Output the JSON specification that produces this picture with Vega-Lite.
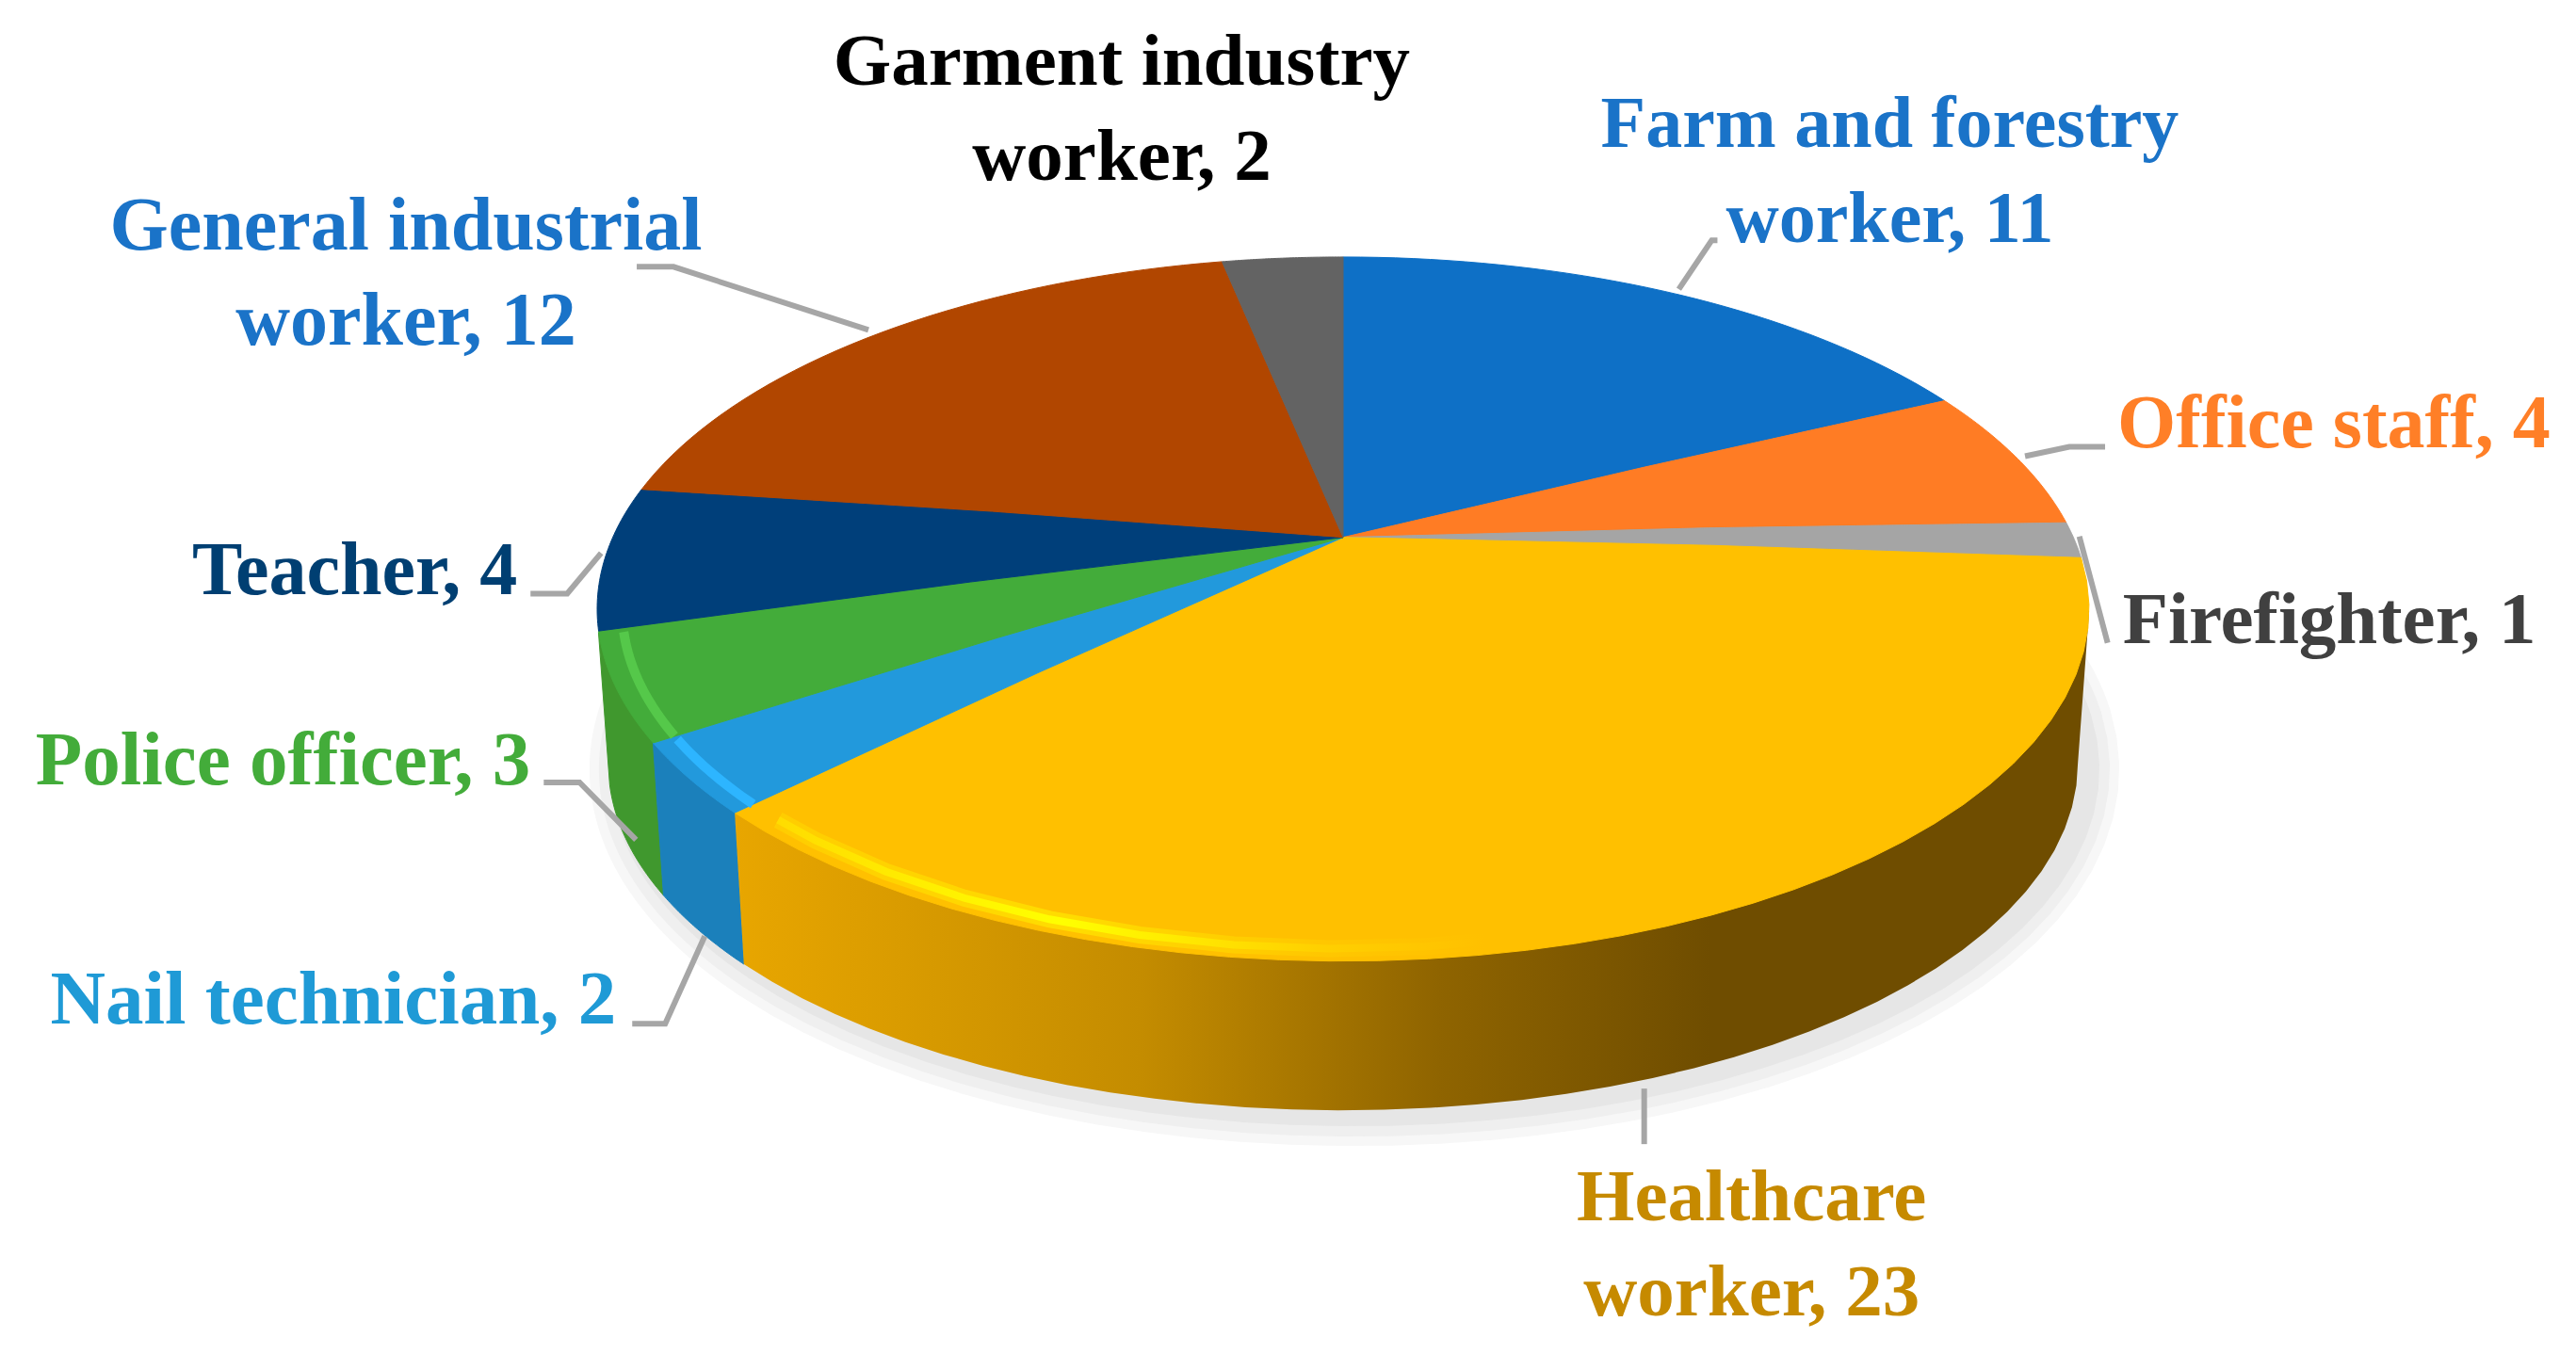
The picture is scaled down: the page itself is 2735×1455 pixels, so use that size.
{"$schema":"https://vega.github.io/schema/vega-lite/v6.json","width":2735,"height":1455,"padding":0,"autosize":{"type":"fit","contains":"padding"},"background":"white","config":{"view":{"stroke":null}},
"data":{"values":[
{"slice":1,"category":"Farm and forestry worker","value":11,"label":"Farm and forestry\nworker, 11"},
{"slice":2,"category":"Office staff","value":4,"label":"Office staff, 4"},
{"slice":3,"category":"Firefighter","value":1,"label":"Firefighter, 1"},
{"slice":4,"category":"Healthcare worker","value":23,"label":"Healthcare\nworker, 23"},
{"slice":5,"category":"Nail technician","value":2,"label":"Nail technician, 2"},
{"slice":6,"category":"Police officer","value":3,"label":"Police officer, 3"},
{"slice":7,"category":"Teacher","value":4,"label":"Teacher, 4"},
{"slice":8,"category":"General industrial worker","value":12,"label":"General industrial\nworker, 12"},
{"slice":9,"category":"Garment industry worker","value":2,"label":"Garment industry\nworker, 2"}]},
"transform":[
{"window":[{"op":"sum","field":"value","as":"v1"}],"sort":[{"field":"slice","order":"ascending"}]},
{"joinaggregate":[{"op":"sum","field":"value","as":"total"}]},
{"calculate":"(datum.v1-datum.value)/datum.total*360","as":"a0"},
{"calculate":"datum.v1/datum.total*360","as":"a1"},
{"calculate":"(datum.a0+datum.a1)/2","as":"am"},
{"calculate":"180-(datum.a0-11.3*sin(datum.a0*PI/180))","as":"l0"},
{"calculate":"180-(datum.a1-11.3*sin(datum.a1*PI/180))","as":"l1"},
{"calculate":"180-(datum.am-13*sin(datum.am*PI/180))","as":"lm"},
{"calculate":"datum.l1-datum.l0","as":"d"},
{"calculate":"88.5","as":"rimLat"},
{"calculate":"datum.slice==4?90:datum.l0","as":"w0"},
{"calculate":"datum.l1-datum.w0","as":"wd"},
{"calculate":"1.0154*sin((180-datum.w0)*PI/180)","as":"ux0"},
{"calculate":"0.4457+1.0163*cos((180-datum.w0)*PI/180)","as":"uy0"},
{"calculate":"1.0154*sin((180-datum.l1)*PI/180)","as":"ux1"},
{"calculate":"0.4457+1.0163*cos((180-datum.l1)*PI/180)","as":"uy1"},
{"calculate":"{type:'Feature',geometry:{type:'Polygon',coordinates:[[[180-atan2(datum.ux0,datum.uy0)*180/PI,90-1.5*sqrt(datum.ux0*datum.ux0+datum.uy0*datum.uy0)],[datum.w0,88.5],[datum.w0+datum.wd*0.025,88.5],[datum.w0+datum.wd*0.05,88.5],[datum.w0+datum.wd*0.075,88.5],[datum.w0+datum.wd*0.1,88.5],[datum.w0+datum.wd*0.125,88.5],[datum.w0+datum.wd*0.15,88.5],[datum.w0+datum.wd*0.175,88.5],[datum.w0+datum.wd*0.2,88.5],[datum.w0+datum.wd*0.225,88.5],[datum.w0+datum.wd*0.25,88.5],[datum.w0+datum.wd*0.275,88.5],[datum.w0+datum.wd*0.3,88.5],[datum.w0+datum.wd*0.325,88.5],[datum.w0+datum.wd*0.35,88.5],[datum.w0+datum.wd*0.375,88.5],[datum.w0+datum.wd*0.4,88.5],[datum.w0+datum.wd*0.425,88.5],[datum.w0+datum.wd*0.45,88.5],[datum.w0+datum.wd*0.475,88.5],[datum.w0+datum.wd*0.5,88.5],[datum.w0+datum.wd*0.525,88.5],[datum.w0+datum.wd*0.55,88.5],[datum.w0+datum.wd*0.575,88.5],[datum.w0+datum.wd*0.6,88.5],[datum.w0+datum.wd*0.625,88.5],[datum.w0+datum.wd*0.65,88.5],[datum.w0+datum.wd*0.675,88.5],[datum.w0+datum.wd*0.7,88.5],[datum.w0+datum.wd*0.725,88.5],[datum.w0+datum.wd*0.75,88.5],[datum.w0+datum.wd*0.775,88.5],[datum.w0+datum.wd*0.8,88.5],[datum.w0+datum.wd*0.825,88.5],[datum.w0+datum.wd*0.85,88.5],[datum.w0+datum.wd*0.875,88.5],[datum.w0+datum.wd*0.9,88.5],[datum.w0+datum.wd*0.925,88.5],[datum.w0+datum.wd*0.95,88.5],[datum.w0+datum.wd*0.975,88.5],[datum.l1,88.5],[180-atan2(datum.ux1,datum.uy1)*180/PI,90-1.5*sqrt(datum.ux1*datum.ux1+datum.uy1*datum.uy1)],[180-atan2(datum.ux0,datum.uy0)*180/PI,90-1.5*sqrt(datum.ux0*datum.ux0+datum.uy0*datum.uy0)]]]}}","as":"wall"},
{"calculate":"{type:'Feature',geometry:{type:'Polygon',coordinates:[[[180,89.73],[datum.l0,88.5],[datum.l0+datum.d*0.025,88.5],[datum.l0+datum.d*0.05,88.5],[datum.l0+datum.d*0.075,88.5],[datum.l0+datum.d*0.1,88.5],[datum.l0+datum.d*0.125,88.5],[datum.l0+datum.d*0.15,88.5],[datum.l0+datum.d*0.175,88.5],[datum.l0+datum.d*0.2,88.5],[datum.l0+datum.d*0.225,88.5],[datum.l0+datum.d*0.25,88.5],[datum.l0+datum.d*0.275,88.5],[datum.l0+datum.d*0.3,88.5],[datum.l0+datum.d*0.325,88.5],[datum.l0+datum.d*0.35,88.5],[datum.l0+datum.d*0.375,88.5],[datum.l0+datum.d*0.4,88.5],[datum.l0+datum.d*0.425,88.5],[datum.l0+datum.d*0.45,88.5],[datum.l0+datum.d*0.475,88.5],[datum.l0+datum.d*0.5,88.5],[datum.l0+datum.d*0.525,88.5],[datum.l0+datum.d*0.55,88.5],[datum.l0+datum.d*0.575,88.5],[datum.l0+datum.d*0.6,88.5],[datum.l0+datum.d*0.625,88.5],[datum.l0+datum.d*0.65,88.5],[datum.l0+datum.d*0.675,88.5],[datum.l0+datum.d*0.7,88.5],[datum.l0+datum.d*0.725,88.5],[datum.l0+datum.d*0.75,88.5],[datum.l0+datum.d*0.775,88.5],[datum.l0+datum.d*0.8,88.5],[datum.l0+datum.d*0.825,88.5],[datum.l0+datum.d*0.85,88.5],[datum.l0+datum.d*0.875,88.5],[datum.l0+datum.d*0.9,88.5],[datum.l0+datum.d*0.925,88.5],[datum.l0+datum.d*0.95,88.5],[datum.l0+datum.d*0.975,88.5],[datum.l1,88.5],[180,89.73]]]}}","as":"wedge"},
{"calculate":"{type:'Feature',geometry:{type:'LineString',coordinates:[[datum.l0+datum.d*0.02,88.55],[datum.l0+datum.d*0.05,88.55],[datum.l0+datum.d*0.1,88.55],[datum.l0+datum.d*0.15,88.55],[datum.l0+datum.d*0.2,88.55],[datum.l0+datum.d*0.25,88.55],[datum.l0+datum.d*0.3,88.55],[datum.l0+datum.d*0.35,88.55],[datum.l0+datum.d*0.4,88.55],[datum.l0+datum.d*0.45,88.55],[datum.l0+datum.d*0.5,88.55],[datum.l0+datum.d*0.55,88.55],[datum.l0+datum.d*0.6,88.55],[datum.l0+datum.d*0.65,88.55],[datum.l0+datum.d*0.7,88.55],[datum.l0+datum.d*0.75,88.55],[datum.l0+datum.d*0.8,88.55],[datum.l0+datum.d*0.85,88.55],[datum.l0+datum.d*0.9,88.55],[datum.l0+datum.d*0.95,88.55],[datum.l0+datum.d*0.98,88.55]]}}","as":"rimLine"}
],
"layer":[
{"mark":{"type":"geoshape","fill":"#f7f7f7","stroke":"#f7f7f7","strokeWidth":64,"strokeJoin":"round"},"projection":{"type":"orthographic","scale":29801,"rotate":[0,-28.17],"translate":[1438,27079],"precision":0.6},"encoding":{"shape":{"field":"wedge","type":"geojson"}}},
{"mark":{"type":"geoshape","fill":"#efefef","stroke":"#efefef","strokeWidth":44,"strokeJoin":"round"},"projection":{"type":"orthographic","scale":29801,"rotate":[0,-28.17],"translate":[1438,27079],"precision":0.6},"encoding":{"shape":{"field":"wedge","type":"geojson"}}},
{"mark":{"type":"geoshape","fill":"#e6e6e6","stroke":"#e6e6e6","strokeWidth":22,"strokeJoin":"round"},"projection":{"type":"orthographic","scale":29801,"rotate":[0,-28.17],"translate":[1438,27079],"precision":0.6},"encoding":{"shape":{"field":"wedge","type":"geojson"}}},

{"transform":[{"filter":"datum.slice==6"}],"mark":{"type":"geoshape","fill":"#40982e","stroke":"#40982e","strokeWidth":1},"projection":{"type":"orthographic","scale":29801,"rotate":[0,-28.17],"translate":[1426,27073],"precision":0.5},"encoding":{"shape":{"field":"wall","type":"geojson"}}},
{"transform":[{"filter":"datum.slice==5"}],"mark":{"type":"geoshape","fill":"#1b80bb","stroke":"#1b80bb","strokeWidth":1},"projection":{"type":"orthographic","scale":29801,"rotate":[0,-28.17],"translate":[1426,27073],"precision":0.5},"encoding":{"shape":{"field":"wall","type":"geojson"}}},
{"transform":[{"filter":"datum.slice==4"}],"mark":{"type":"geoshape","fill":{"gradient":"linear","x1":0,"y1":0,"x2":1,"y2":0,"stops":[{"offset":0,"color":"#e8a600"},{"offset":0.3,"color":"#c48c00"},{"offset":0.52,"color":"#8f6400"},{"offset":0.72,"color":"#6f4d00"},{"offset":1,"color":"#6f4d00"}]}},"projection":{"type":"orthographic","scale":29801,"rotate":[0,-28.17],"translate":[1426,27073],"precision":0.5},"encoding":{"shape":{"field":"wall","type":"geojson"}}},

{"mark":{"type":"geoshape","strokeWidth":1},"projection":{"type":"orthographic","scale":30255,"rotate":[0,-28.17],"translate":[1426,27309]},"encoding":{"shape":{"field":"wedge","type":"geojson"},"fill":{"field":"category","type":"nominal","legend":null,"scale":{"domain":["Farm and forestry worker","Office staff","Firefighter","Healthcare worker","Nail technician","Police officer","Teacher","General industrial worker","Garment industry worker"],"range":["#0e70c6","#ff7c24","#a5a5a5","#ffc000","#2299dc","#43ac3a","#003f7a","#b14600","#636363"]}},"stroke":{"field":"category","type":"nominal","legend":null,"scale":{"domain":["Farm and forestry worker","Office staff","Firefighter","Healthcare worker","Nail technician","Police officer","Teacher","General industrial worker","Garment industry worker"],"range":["#0e70c6","#ff7c24","#a5a5a5","#ffc000","#2299dc","#43ac3a","#003f7a","#b14600","#636363"]}}}},
{"transform":[{"filter":"datum.slice==4"}],"mark":{"type":"geoshape","filled":false,"strokeWidth":18,"strokeOpacity":0.45,"strokeCap":"butt","stroke":{"gradient":"linear","x1":0,"y1":0,"x2":1,"y2":0,"stops":[{"offset":0,"color":"#ffdc00"},{"offset":0.22,"color":"#ffff00"},{"offset":0.42,"color":"#ffd000"},{"offset":0.55,"color":"#ffc000"},{"offset":1,"color":"#ffc000"}]}},"projection":{"type":"orthographic","scale":30255,"rotate":[0,-28.17],"translate":[1426,27309]},"encoding":{"shape":{"field":"rimLine","type":"geojson"}}},
{"transform":[{"filter":"datum.slice==4"}],"mark":{"type":"geoshape","filled":false,"strokeWidth":8,"strokeCap":"butt","stroke":{"gradient":"linear","x1":0,"y1":0,"x2":1,"y2":0,"stops":[{"offset":0,"color":"#ffdc00"},{"offset":0.22,"color":"#ffff00"},{"offset":0.42,"color":"#ffd000"},{"offset":0.55,"color":"#ffc000"},{"offset":1,"color":"#ffc000"}]}},"projection":{"type":"orthographic","scale":30255,"rotate":[0,-28.17],"translate":[1426,27309]},"encoding":{"shape":{"field":"rimLine","type":"geojson"}}},
{"transform":[{"filter":"datum.slice==5"}],"mark":{"type":"geoshape","filled":false,"strokeWidth":10,"stroke":"#2db5ff"},"projection":{"type":"orthographic","scale":30255,"rotate":[0,-28.17],"translate":[1426,27309]},"encoding":{"shape":{"field":"rimLine","type":"geojson"}}},
{"transform":[{"filter":"datum.slice==6"}],"mark":{"type":"geoshape","filled":false,"strokeWidth":10,"stroke":"#55c84a"},"projection":{"type":"orthographic","scale":30255,"rotate":[0,-28.17],"translate":[1426,27309]},"encoding":{"shape":{"field":"rimLine","type":"geojson"}}},

{"transform":[{"filter":"datum.slice!=9"}],"mark":{"type":"point","filled":false,"size":4,"stroke":"#a6a6a6","strokeWidth":6,"opacity":1,"strokeCap":"butt"},"projection":{"type":"orthographic","scale":30255,"rotate":[0,-28.17],"translate":[1426,27309]},"encoding":{"longitude":{"field":"lm","type":"quantitative"},"latitude":{"field":"rimLat","type":"quantitative"},"shape":{"field":"category","type":"nominal","legend":null,"scale":{"domain":["Farm and forestry worker","Office staff","Firefighter","Healthcare worker","Nail technician","Police officer","Teacher","General industrial worker"],"range":["M21,-1L56,-53L62,-53","M19,8L66,-2L104,-2","M10,7L40,120","M-13,170L-13,229","M25,175L-17,268L-52,268","M26,172L-34,111L-72,111","M-8,6L-44,49L-83,49","M-27,2L-234,-65L-273,-65"]}}}},

{"transform":[{"filter":"datum.slice==1"}],"mark":{"type":"text","font":"Liberation Serif","fontWeight":"bold","fontSize":78,"lineHeight":101,"lineBreak":"\n","baseline":"alphabetic","align":"center","dx":245,"dy":-152,"fill":"#1a73c8"},"projection":{"type":"orthographic","scale":30255,"rotate":[0,-28.17],"translate":[1426,27309]},"encoding":{"longitude":{"field":"lm","type":"quantitative"},"latitude":{"field":"rimLat","type":"quantitative"},"text":{"field":"label"}}},
{"transform":[{"filter":"datum.slice==2"}],"mark":{"type":"text","font":"Liberation Serif","fontWeight":"bold","fontSize":80,"lineHeight":101,"lineBreak":"\n","baseline":"alphabetic","align":"left","dx":117,"dy":-1,"fill":"#ff7f27"},"projection":{"type":"orthographic","scale":30255,"rotate":[0,-28.17],"translate":[1426,27309]},"encoding":{"longitude":{"field":"lm","type":"quantitative"},"latitude":{"field":"rimLat","type":"quantitative"},"text":{"field":"label"}}},
{"transform":[{"filter":"datum.slice==3"}],"mark":{"type":"text","font":"Liberation Serif","fontWeight":"bold","fontSize":79,"lineHeight":101,"lineBreak":"\n","baseline":"alphabetic","align":"left","dx":56,"dy":120,"fill":"#404040"},"projection":{"type":"orthographic","scale":30255,"rotate":[0,-28.17],"translate":[1426,27309]},"encoding":{"longitude":{"field":"lm","type":"quantitative"},"latitude":{"field":"rimLat","type":"quantitative"},"text":{"field":"label"}}},
{"transform":[{"filter":"datum.slice==4"}],"mark":{"type":"text","font":"Liberation Serif","fontWeight":"bold","fontSize":79,"lineHeight":101,"lineBreak":"\n","baseline":"alphabetic","align":"center","dx":101,"dy":310,"fill":"#c68a00"},"projection":{"type":"orthographic","scale":30255,"rotate":[0,-28.17],"translate":[1426,27309]},"encoding":{"longitude":{"field":"lm","type":"quantitative"},"latitude":{"field":"rimLat","type":"quantitative"},"text":{"field":"label"}}},
{"transform":[{"filter":"datum.slice==5"}],"mark":{"type":"text","font":"Liberation Serif","fontWeight":"bold","fontSize":81,"lineHeight":101,"lineBreak":"\n","baseline":"alphabetic","align":"right","dx":-69,"dy":268,"fill":"#1f9ad6"},"projection":{"type":"orthographic","scale":30255,"rotate":[0,-28.17],"translate":[1426,27309]},"encoding":{"longitude":{"field":"lm","type":"quantitative"},"latitude":{"field":"rimLat","type":"quantitative"},"text":{"field":"label"}}},
{"transform":[{"filter":"datum.slice==6"}],"mark":{"type":"text","font":"Liberation Serif","fontWeight":"bold","fontSize":81,"lineHeight":101,"lineBreak":"\n","baseline":"alphabetic","align":"right","dx":-86,"dy":113,"fill":"#43ac3a"},"projection":{"type":"orthographic","scale":30255,"rotate":[0,-28.17],"translate":[1426,27309]},"encoding":{"longitude":{"field":"lm","type":"quantitative"},"latitude":{"field":"rimLat","type":"quantitative"},"text":{"field":"label"}}},
{"transform":[{"filter":"datum.slice==7"}],"mark":{"type":"text","font":"Liberation Serif","fontWeight":"bold","fontSize":80,"lineHeight":101,"lineBreak":"\n","baseline":"alphabetic","align":"right","dx":-97,"dy":50,"fill":"#003f72"},"projection":{"type":"orthographic","scale":30255,"rotate":[0,-28.17],"translate":[1426,27309]},"encoding":{"longitude":{"field":"lm","type":"quantitative"},"latitude":{"field":"rimLat","type":"quantitative"},"text":{"field":"label"}}},
{"transform":[{"filter":"datum.slice==8"}],"mark":{"type":"text","font":"Liberation Serif","fontWeight":"bold","fontSize":80,"lineHeight":101,"lineBreak":"\n","baseline":"alphabetic","align":"center","dx":-518,"dy":-83,"fill":"#1a73c8"},"projection":{"type":"orthographic","scale":30255,"rotate":[0,-28.17],"translate":[1426,27309]},"encoding":{"longitude":{"field":"lm","type":"quantitative"},"latitude":{"field":"rimLat","type":"quantitative"},"text":{"field":"label"}}},
{"transform":[{"filter":"datum.slice==9"}],"mark":{"type":"text","font":"Liberation Serif","fontWeight":"bold","fontSize":79,"lineHeight":101,"lineBreak":"\n","baseline":"alphabetic","align":"center","dx":-173,"dy":-184,"fill":"#000000"},"projection":{"type":"orthographic","scale":30255,"rotate":[0,-28.17],"translate":[1426,27309]},"encoding":{"longitude":{"field":"lm","type":"quantitative"},"latitude":{"field":"rimLat","type":"quantitative"},"text":{"field":"label"}}}
],
"resolve":{"scale":{"fill":"independent","stroke":"independent","shape":"independent"}}}
